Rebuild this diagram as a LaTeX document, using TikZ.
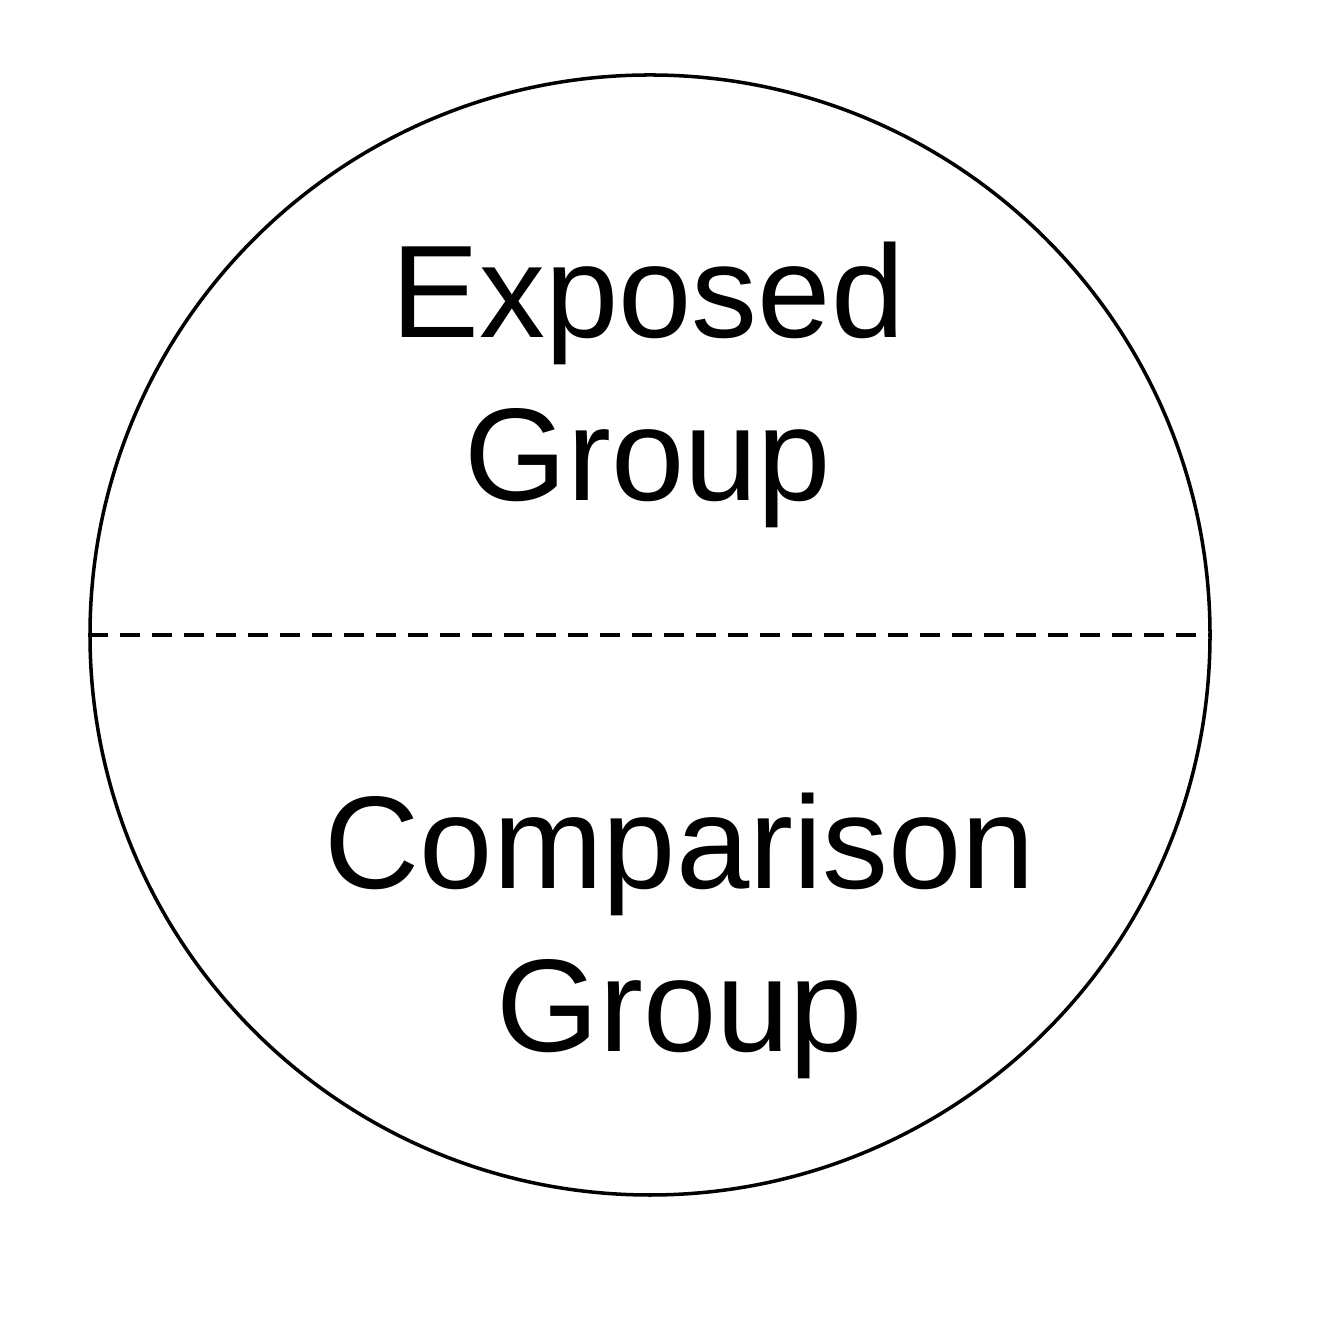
\documentclass[tikz,border=0pt]{standalone}
\usepackage{fontspec}
\setmainfont{Liberation Sans}
\usepackage{tikz}
\usetikzlibrary{positioning}

\begin{document}
\begin{tikzpicture}[
  group/.style={align=center, inner sep=0pt, font=\fontsize{37.5}{46.4}\selectfont},
  rim/.style={draw, line width=1pt},
  split/.style={line width=1.2pt, dash pattern=on 0.2cm off 0.12cm},
]
\useasboundingbox (0,0) rectangle (13.34,13.34);
\fill[white] (0,0) rectangle (13.34,13.34);
\node[rim, circle, minimum size=11.2cm, inner sep=0pt] (pop) at (6.50,6.99) {};
\draw[split] (pop.west) -- (pop.east);
\node[group] (exposed) at (6.48,9.49) {Exposed\\Group};
\node[group] (comparison) at (6.80,3.98) {Comparison\\Group};
\end{tikzpicture}
\end{document}
